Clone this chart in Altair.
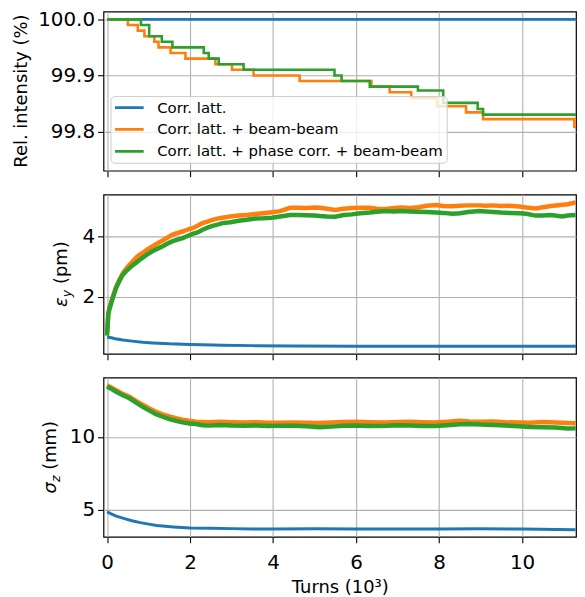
import altair as alt
import pandas as pd

SERIES = ["Corr. latt.", "Corr. latt. + beam-beam", "Corr. latt. + phase corr. + beam-beam"]
COLORS = ["#1f77b4", "#ff7f0e", "#2ca02c"]
X_TICKS = [0, 2, 4, 6, 8, 10]

# ---------------- Panel 1: relative intensity (%) (step curves) ----------------
int_blue_x = [0.0, 11.4]
int_blue_y = [100.0, 100.0]
int_orange_x = [0.0, 0.50, 0.74, 0.90, 1.14, 1.24, 1.53, 1.89, 2.61, 3.01, 3.53, 4.64,
                6.37, 6.81, 7.33, 7.95, 8.65, 9.06, 11.26, 11.4]
int_orange_y = [100.00, 99.99, 99.98, 99.97, 99.96, 99.95, 99.94, 99.93, 99.92, 99.91, 99.90, 99.89,
                99.88, 99.87, 99.86, 99.845, 99.834, 99.822, 99.808, 99.808]
int_green_x = [0.0, 0.815, 1.015, 1.32, 1.575, 2.33, 2.45, 2.69, 3.29, 5.48, 5.65, 6.33,
               7.49, 8.10, 8.93, 9.06, 11.4]
int_green_y = [100.00, 99.99, 99.97, 99.96, 99.95, 99.94, 99.93, 99.92, 99.91, 99.90, 99.89, 99.88,
               99.873, 99.851, 99.84, 99.83, 99.83]

# ---------------- Panel 2: vertical emittance (pm) ----------------
eps_x = [0, 0.03, 0.06, 0.12, 0.22, 0.30, 0.38, 0.46, 0.54, 0.62, 0.70, 0.78, 0.86, 0.98, 1.10,
         1.22, 1.34, 1.46, 1.58, 1.70, 1.82, 1.94, 2.06, 2.18, 2.30, 2.42, 2.54, 2.66, 2.78, 2.97,
         3.17, 3.37, 3.57, 3.77, 3.97, 4.17, 4.41, 4.60, 4.80, 5.00, 5.13, 5.30, 5.50, 5.70, 5.90,
         6.10, 6.33, 6.50, 6.73, 6.90, 7.10, 7.30, 7.50, 7.70, 7.93, 8.10, 8.33, 8.50, 8.70, 8.97,
         9.13, 9.30, 9.50, 9.70, 9.93, 10.10, 10.33, 10.50, 10.70, 10.97, 11.10, 11.29]
eps_orange = [0.80, 1.45, 1.63, 1.92, 2.33, 2.57, 2.78, 2.93, 3.06, 3.18, 3.30, 3.39, 3.46, 3.58, 3.68,
              3.78, 3.87, 3.97, 4.07, 4.12, 4.17, 4.23, 4.28, 4.36, 4.45, 4.50, 4.56, 4.60, 4.63, 4.67,
              4.70, 4.72, 4.75, 4.78, 4.81, 4.85, 4.96, 4.96, 4.95, 4.97, 4.96, 4.93, 4.89, 4.93, 4.95,
              4.96, 4.96, 4.93, 4.92, 4.95, 4.97, 4.95, 4.98, 5.03, 5.05, 5.02, 5.01, 5.03, 5.04, 5.04,
              5.03, 5.04, 5.02, 5.03, 5.00, 4.97, 4.94, 4.98, 5.02, 5.06, 5.08, 5.14]
eps_green = [0.70, 1.42, 1.60, 1.88, 2.30, 2.53, 2.73, 2.85, 2.95, 3.05, 3.13, 3.22, 3.30, 3.42, 3.52,
             3.60, 3.68, 3.77, 3.85, 3.90, 3.95, 4.02, 4.09, 4.14, 4.23, 4.30, 4.36, 4.40, 4.45, 4.48,
             4.53, 4.56, 4.60, 4.61, 4.63, 4.67, 4.72, 4.72, 4.71, 4.70, 4.69, 4.67, 4.66, 4.72, 4.74,
             4.78, 4.80, 4.83, 4.85, 4.84, 4.85, 4.84, 4.83, 4.82, 4.80, 4.79, 4.76, 4.78, 4.82, 4.85,
             4.84, 4.82, 4.80, 4.79, 4.78, 4.76, 4.70, 4.70, 4.72, 4.67, 4.70, 4.72]
eps_blue_x = [0, 0.10, 0.20, 0.38, 0.60, 0.86, 1.10, 1.50, 2.00, 2.30, 2.78, 3.50, 4.50, 6.0, 8.0, 10.0, 11.3]
eps_blue = [0.66, 0.63, 0.60, 0.56, 0.52, 0.48, 0.46, 0.43, 0.41, 0.40, 0.38, 0.37, 0.36, 0.35, 0.35, 0.35, 0.35]

# ---------------- Panel 3: bunch length (mm) ----------------
sz_x = [0, 0.10, 0.22, 0.38, 0.54, 0.70, 0.86, 1.02, 1.18, 1.34, 1.50, 1.66, 1.82, 1.98, 2.14, 2.30,
        2.46, 2.74, 3.0, 3.3, 3.6, 3.9, 4.2, 4.5, 4.8, 5.13, 5.4, 5.7, 6.0, 6.3, 6.73, 7.0, 7.3, 7.6,
        7.9, 8.2, 8.5, 8.73, 9.0, 9.3, 9.6, 9.93, 10.2, 10.5, 10.8, 11.1, 11.29]
sz_orange = [13.55, 13.40, 13.20, 12.95, 12.76, 12.47, 12.20, 11.95, 11.72, 11.55, 11.40, 11.28, 11.18,
             11.10, 11.04, 11.02, 11.00, 11.03, 11.00, 10.98, 11.00, 10.96, 10.97, 10.99, 10.97, 10.95,
             10.98, 11.02, 11.03, 11.00, 10.98, 11.02, 11.03, 11.00, 10.98, 11.03, 11.10, 11.05, 11.03,
             11.05, 11.00, 10.98, 10.96, 11.02, 10.98, 10.95, 10.93]
sz_green = [13.45, 13.30, 13.10, 12.85, 12.65, 12.35, 12.06, 11.80, 11.56, 11.38, 11.22, 11.10, 11.00,
            10.92, 10.88, 10.80, 10.77, 10.82, 10.78, 10.76, 10.78, 10.75, 10.77, 10.76, 10.72, 10.66,
            10.70, 10.76, 10.78, 10.74, 10.76, 10.80, 10.78, 10.74, 10.75, 10.80, 10.86, 10.88, 10.84,
            10.82, 10.78, 10.72, 10.68, 10.66, 10.64, 10.57, 10.58]
sz_blue_x = [0, 0.10, 0.22, 0.40, 0.60, 0.80, 1.00, 1.20, 1.40, 1.60, 1.80, 2.00, 2.50, 3.00, 3.50, 4.00,
             5.0, 6.0, 7.0, 8.0, 9.0, 10.0, 11.29]
sz_blue = [4.84, 4.70, 4.55, 4.39, 4.23, 4.10, 4.00, 3.91, 3.85, 3.80, 3.76, 3.73, 3.71, 3.69, 3.67, 3.67,
           3.68, 3.67, 3.66, 3.67, 3.68, 3.66, 3.62]

W, H = 475, 160
FONT = "DejaVu Sans"
xscale = alt.Scale(domain=[-0.086, 11.3], nice=False, zero=False)
cscale = alt.Scale(domain=SERIES, range=COLORS)


def frame(xs, ys, name):
    return pd.DataFrame({"x": xs, "y": ys, "series": [name] * len(xs)})


def text_layer(txt, x, y, size, style="normal", align="left"):
    return alt.Chart(pd.DataFrame({"t": [txt]})).mark_text(
        angle=270, align=align, baseline="alphabetic", fontSize=size,
        fontStyle=style, font=FONT, color="black"
    ).encode(x=alt.value(x), y=alt.value(y), text="t:N")


def panel(frames, widths, ydomain, yticks, yfmt, bottom, legend, interp, titles):
    xaxis = alt.Axis(values=X_TICKS, labels=bottom, format="d", labelFlush=False,
                     labelPadding=10, titlePadding=6,
                     title=("Turns (10³)" if bottom else None))
    yaxis = alt.Axis(values=yticks, format=yfmt, title=None, labelPadding=3)
    layers = []
    for df, w in zip(frames, widths):
        layers.append(
            alt.Chart(df).mark_line(strokeWidth=w, clip=True, interpolate=interp).encode(
                x=alt.X("x:Q", scale=xscale, axis=xaxis),
                y=alt.Y("y:Q", scale=alt.Scale(domain=ydomain, nice=False, zero=False), axis=yaxis),
                color=alt.Color("series:N", scale=cscale, legend=legend),
            )
        )
    layers += titles
    return alt.layer(*layers).properties(width=W, height=H)


legend = alt.Legend(
    title=None, orient="none", legendX=7, legendY=85,
    symbolType="stroke", symbolSize=830, symbolStrokeWidth=2.7,
    labelFontSize=15, labelFont=FONT, labelColor="black", labelLimit=0,
    clipHeight=17, padding=3, rowPadding=5, labelOffset=12,
    fillColor="rgba(255,255,255,0.8)", strokeColor="#cccccc", cornerRadius=4,
)

top = panel(
    [frame(int_blue_x, int_blue_y, SERIES[0]),
     frame(int_orange_x, int_orange_y, SERIES[1]),
     frame(int_green_x, int_green_y, SERIES[2])],
    [2.6, 2.6, 2.6], [99.73, 100.014], [99.8, 99.9, 100.0], ".1f", False, legend, "step-after",
    [text_layer("Rel. intensity (%)", -77, 80, 18, align="center")],
)

mid = panel(
    [frame(eps_blue_x, eps_blue, SERIES[0]),
     frame(eps_x, eps_orange, SERIES[1]),
     frame(eps_x, eps_green, SERIES[2])],
    [3.0, 4.5, 4.5], [0.1, 5.4], [2, 4], "d", False, None, "linear",
    [text_layer("ε", -37, 113, 18, "italic"),
     text_layer("y", -33, 103.2, 12.6, "italic"),
     text_layer("(pm)", -37, 90, 18)],
)

bot = panel(
    [frame(sz_blue_x, sz_blue, SERIES[0]),
     frame(sz_x, sz_orange, SERIES[1]),
     frame(sz_x, sz_green, SERIES[2])],
    [3.0, 4.5, 4.5], [3.13, 14.07], [5, 10], "d", True, None, "linear",
    [text_layer("σ", -47.5, 116.4, 18, "italic"),
     text_layer("z", -43.5, 105, 12.6, "italic"),
     text_layer("(mm)", -47.5, 92.7, 18)],
)

chart = alt.vconcat(top, mid, bot, spacing=24, bounds="flush").resolve_scale(
    color="independent"
).properties(
    padding={"left": 4, "top": -1, "right": 0, "bottom": 0}
).configure(font=FONT).configure_view(
    stroke="black", strokeWidth=1.2
).configure_axis(
    labelFontSize=20, labelColor="black", labelFont=FONT,
    titleFontSize=18, titleFont=FONT, titleFontWeight="normal", titleColor="black",
    tickColor="black", tickSize=6, tickWidth=1.1,
    gridColor="#b0b0b0", gridWidth=1.1, gridOpacity=1, domain=False,
)

chart.save("out.html", embed_options={"renderer": "svg", "actions": False})
